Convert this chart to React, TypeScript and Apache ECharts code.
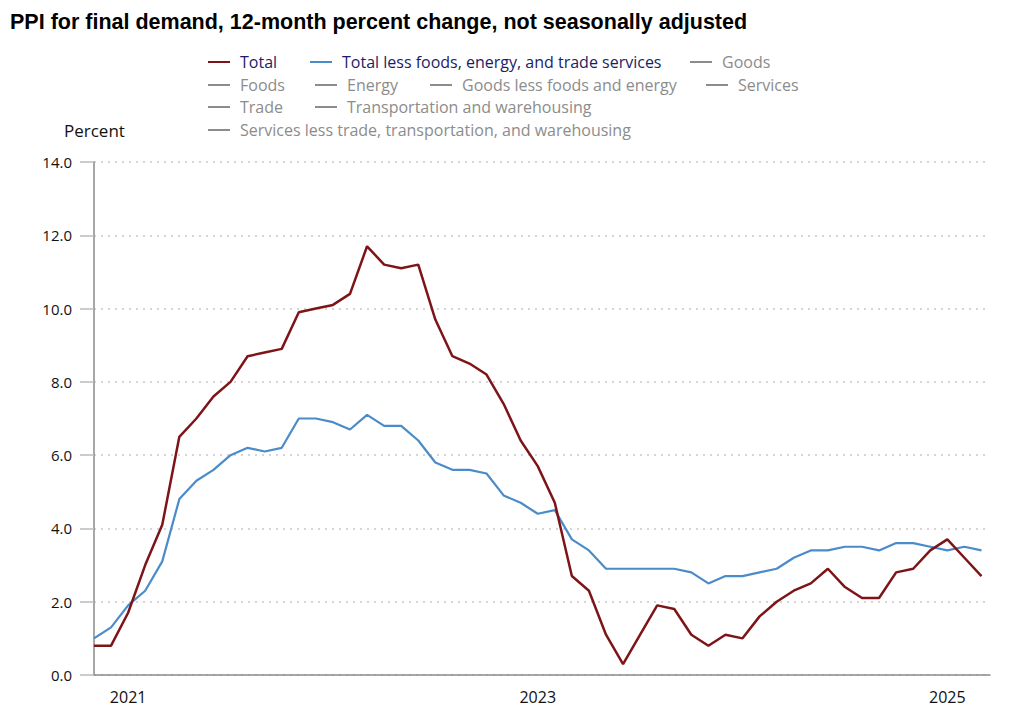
import React, { useEffect, useRef } from "react";
import * as echarts from "echarts";

// Months Nov 2020 .. Mar 2025 (index 0..52)
const months: string[] = [
  "Nov 2020", "Dec 2020",
  "Jan 2021", "Feb 2021", "Mar 2021", "Apr 2021", "May 2021", "Jun 2021", "Jul 2021", "Aug 2021", "Sep 2021", "Oct 2021", "Nov 2021", "Dec 2021",
  "Jan 2022", "Feb 2022", "Mar 2022", "Apr 2022", "May 2022", "Jun 2022", "Jul 2022", "Aug 2022", "Sep 2022", "Oct 2022", "Nov 2022", "Dec 2022",
  "Jan 2023", "Feb 2023", "Mar 2023", "Apr 2023", "May 2023", "Jun 2023", "Jul 2023", "Aug 2023", "Sep 2023", "Oct 2023", "Nov 2023", "Dec 2023",
  "Jan 2024", "Feb 2024", "Mar 2024", "Apr 2024", "May 2024", "Jun 2024", "Jul 2024", "Aug 2024", "Sep 2024", "Oct 2024", "Nov 2024", "Dec 2024",
  "Jan 2025", "Feb 2025", "Mar 2025",
];

const totalValues: number[] = [
  0.8, 0.8,
  1.7, 3.0, 4.1, 6.5, 7.0, 7.6, 8.0, 8.7, 8.8, 8.9, 9.9, 10.0,
  10.1, 10.4, 11.7, 11.2, 11.1, 11.2, 9.7, 8.7, 8.5, 8.2, 7.4, 6.4,
  5.7, 4.7, 2.7, 2.3, 1.1, 0.3, 1.1, 1.9, 1.8, 1.1, 0.8, 1.1,
  1.0, 1.6, 2.0, 2.3, 2.5, 2.9, 2.4, 2.1, 2.1, 2.8, 2.9, 3.4,
  3.7, 3.2, 2.7,
];

const coreValues: number[] = [
  1.0, 1.3,
  1.9, 2.3, 3.1, 4.8, 5.3, 5.6, 6.0, 6.2, 6.1, 6.2, 7.0, 7.0,
  6.9, 6.7, 7.1, 6.8, 6.8, 6.4, 5.8, 5.6, 5.6, 5.5, 4.9, 4.7,
  4.4, 4.5, 3.7, 3.4, 2.9, 2.9, 2.9, 2.9, 2.9, 2.8, 2.5, 2.7,
  2.7, 2.8, 2.9, 3.2, 3.4, 3.4, 3.5, 3.5, 3.4, 3.6, 3.6, 3.5,
  3.4, 3.5, 3.4,
];

const yearTickIndices: number[] = [2, 26, 50];
const yTicks: number[] = [0, 2, 4, 6, 8, 10, 12, 14];

const inactiveSeries: string[] = [
  "Goods", "Foods", "Energy", "Goods less foods and energy", "Services",
  "Trade", "Transportation and warehousing",
  "Services less trade, transportation, and warehousing",
];

// legend layout: [name, iconLeft, rowCenterY]
const legendLayout: [string, number, number][] = [
  ["Total", 208, 62],
  ["Total less foods, energy, and trade services", 310, 62],
  ["Goods", 690, 62],
  ["Foods", 208, 85],
  ["Energy", 315, 85],
  ["Goods less foods and energy", 430, 85],
  ["Services", 706, 85],
  ["Trade", 208, 107],
  ["Transportation and warehousing", 315, 107],
  ["Services less trade, transportation, and warehousing", 208, 130],
];

const FONT = "Open Sans";

export default function App() {
  const ref = useRef<HTMLDivElement>(null);

  useEffect(() => {
    if (!ref.current) return;
    const chart = echarts.init(ref.current, undefined, { renderer: "svg" });

    const selected: Record<string, boolean> = {};
    inactiveSeries.forEach((n) => (selected[n] = false));

    const legends = legendLayout.map(([name, left, cy]) => ({
      show: true,
      data: [name],
      left,
      top: cy - 10,
      orient: "horizontal",
      icon: "rect",
      itemWidth: 22,
      itemHeight: 2,
      padding: 0,
      selected,
      selectedMode: false,
      inactiveColor: "#8c8c8c",
      textStyle: {
        fontFamily: FONT,
        fontSize: 16,
        color: "#1c1c66",
        lineHeight: 20,
        padding: [0, 0, 0, 5],
      },
    }));

    const red = "#7d1518";
    const blue = "#4a8bc9";

    const series: any[] = [
      {
        name: "Total",
        type: "line",
        data: totalValues.map((v, i) => [i, v]),
        symbol: "none",
        lineStyle: { color: red, width: 2.5 },
        itemStyle: { color: red },
        z: 3,
      },
      {
        name: "Total less foods, energy, and trade services",
        type: "line",
        data: coreValues.map((v, i) => [i, v]),
        symbol: "none",
        lineStyle: { color: blue, width: 2.2 },
        itemStyle: { color: blue },
        z: 2,
      },
      ...inactiveSeries.map((n) => ({
        name: n,
        type: "line",
        data: [],
        symbol: "none",
        itemStyle: { color: "#8c8c8c" },
        lineStyle: { color: "#8c8c8c" },
      })),
    ];

    chart.setOption({
      animation: false,
      backgroundColor: "#ffffff",
      title: {
        text: "PPI for final demand, 12-month percent change, not seasonally adjusted",
        left: 10,
        top: 11,
        padding: 0,
        textStyle: {
          fontFamily: "Liberation Sans",
          fontSize: 21.5,
          fontWeight: "bold",
          color: "#000000",
        },
      },
      legend: legends,
      graphic: [
        {
          type: "text",
          left: 64,
          top: 122,
          style: {
            text: "Percent",
            fontFamily: FONT,
            fontSize: 17,
            fill: "#111111",
          },
        },
      ],
      grid: { left: 94, right: 22, top: 162, bottom: 46, containLabel: false },
      xAxis: {
        type: "value",
        min: 0,
        max: 52.5,
        splitLine: { show: false },
        axisTick: { show: false },
        axisLine: { show: true, lineStyle: { color: "#8a8a8a", width: 1.5 } },
        axisLabel: {
          customValues: yearTickIndices,
          formatter: (v: number) => months[Math.round(v)]?.slice(4) ?? "",
          fontFamily: FONT,
          fontSize: 16,
          color: "#111111",
          margin: 14,
        },
      },
      yAxis: {
        type: "value",
        min: yTicks[0],
        max: yTicks[yTicks.length - 1],
        interval: 2,
        axisLine: { show: true, lineStyle: { color: "#8a8a8a", width: 1.5 } },
        axisTick: { show: true, length: 14, lineStyle: { color: "#bbbbbb", width: 1.5 } },
        axisLabel: {
          formatter: (v: number) => v.toFixed(1),
          fontFamily: FONT,
          fontSize: 15,
          color: "#111111",
          margin: 22,
        },
        splitLine: {
          show: true,
          lineStyle: { color: "#c8c8c8", type: [2, 5], width: 1.5 },
        },
      },
      series,
    });

    return () => chart.dispose();
  }, []);

  return <div ref={ref} style={{ width: 1012, height: 721, position: "absolute", left: 0, top: 0 }} />;
}
